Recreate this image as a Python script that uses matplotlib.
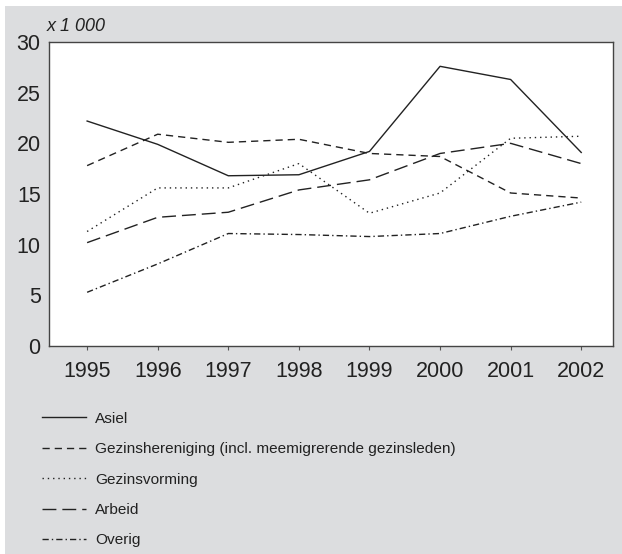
import numpy as np
import matplotlib
matplotlib.use('Agg')
import matplotlib.pyplot as plt
from matplotlib.patches import Rectangle

# Data (x 1 000)
years = [1995, 1996, 1997, 1998, 1999, 2000, 2001, 2002]
asiel = [22.2, 19.9, 16.8, 16.9, 19.2, 27.6, 26.3, 19.1]
gezinshereniging = [17.8, 20.9, 20.1, 20.4, 19.0, 18.7, 15.1, 14.6]
gezinsvorming = [11.3, 15.6, 15.6, 18.0, 13.1, 15.1, 20.5, 20.7]
arbeid = [10.2, 12.7, 13.2, 15.4, 16.4, 19.0, 20.0, 18.0]
overig = [5.3, 8.1, 11.1, 11.0, 10.8, 11.1, 12.8, 14.2]

labels = ['Asiel',
          'Gezinshereniging (incl. meemigrerende gezinsleden)',
          'Gezinsvorming',
          'Arbeid',
          'Overig']
yticks = [0, 5, 10, 15, 20, 25, 30]

plt.rcParams['font.family'] = ['Liberation Sans', 'DejaVu Sans']

bg = '#dcdddf'
ink = '#222222'

fig = plt.figure(figsize=(6.22, 5.54), dpi=100)
fig.patch.set_facecolor('white')
fig.patches.append(Rectangle((5 / 622, 0), 1 - 5 / 622, 1 - 6 / 554,
                             transform=fig.transFigure, facecolor=bg,
                             edgecolor='none', zorder=-10))

ax = fig.add_axes([49 / 622, (554 - 346) / 554, (613 - 49) / 622, (346 - 42) / 554])
ax.set_facecolor('white')

styles = [
    dict(linestyle='-'),
    dict(dashes=(5.2, 3.6)),
    dict(dashes=(1.0, 2.8)),
    dict(dashes=(10, 4.3)),
    dict(dashes=(4.5, 2.2, 1, 2.2)),
]
series = [asiel, gezinshereniging, gezinsvorming, arbeid, overig]

handles = []
for vals, lab, st in zip(series, labels, styles):
    h, = ax.plot(years, vals, color=ink, linewidth=1.0, label=lab, **st)
    handles.append(h)

ax.set_xlim(1994.46, 2002.45)
ax.set_ylim(0, 30)
ax.set_yticks(yticks)
ax.set_xticks(years)
ax.tick_params(axis='y', length=0, pad=6, labelsize=15.5, labelcolor=ink)
ax.tick_params(axis='x', direction='out', length=3, width=0.8, color='#555555',
               pad=8, labelsize=15.5, labelcolor=ink)
for s in ax.spines.values():
    s.set_color('#444444')
    s.set_linewidth(1.0)

fig.text(47 / 622, (554 - 31) / 554, 'x 1 000', fontsize=13, style='italic',
         color=ink, ha='left', va='baseline')

leg = fig.legend(handles=handles, labels=labels, loc='upper left',
                 bbox_to_anchor=(28 / 622, (554 - 398) / 554), frameon=False,
                 handlelength=2.85, handletextpad=0.62, labelspacing=1.06,
                 prop={'size': 11.1})
for t in leg.get_texts():
    t.set_color(ink)

fig.savefig('out.png', dpi=100, facecolor=fig.get_facecolor())
